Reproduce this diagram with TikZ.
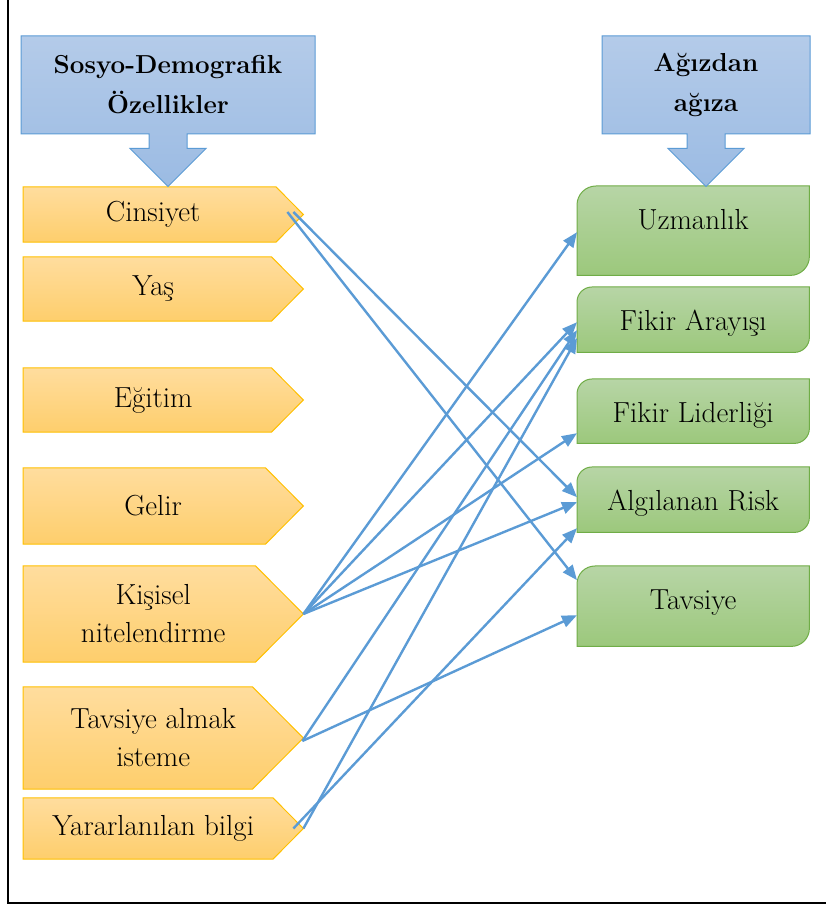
\documentclass[tikz,border=0pt]{standalone}
\usepackage{xcolor}
\usepackage{tikz}
\usetikzlibrary{arrows.meta,shapes.arrows,backgrounds}

\definecolor{sariust}{RGB}{255,221,158}
\definecolor{sarialt}{RGB}{254,206,108}
\definecolor{saricizgi}{RGB}{255,192,0}
\definecolor{yesilust}{RGB}{183,213,166}
\definecolor{yesilalt}{RGB}{156,200,124}
\definecolor{yesilcizgi}{RGB}{112,173,71}
\definecolor{maviust}{RGB}{180,203,233}
\definecolor{mavialt}{RGB}{155,187,227}
\definecolor{mavicizgi}{RGB}{91,155,213}

\begin{document}
\begin{tikzpicture}[x=1pt, y=1pt, ->, >={Triangle[length=15pt,width=12pt]},
  every node/.style={font=\fontsize{29}{38}\selectfont},
  baslik/.style={shape=arrow box, draw=mavicizgi, line width=1pt, top color=maviust, bottom color=mavialt,
    minimum height=98pt, align=center, font=\fontsize{26}{40}\selectfont\bfseries,
    arrow box shaft width=38pt, arrow box head extend=19pt, arrow box arrows={south:52pt from border}},
  kaynak/.style={anchor=west, minimum width=260pt, inner sep=0pt, align=center},
  hedef/.style={anchor=north west, minimum width=232pt, inner sep=0pt, text height=43pt},
  sekil/.style={-, line width=1pt},
  ok/.style={every edge/.style={draw=mavicizgi, line width=2.4pt, -{Triangle[length=15pt,width=12pt]}}}]
\useasboundingbox (0,0) rectangle (826,906);
\draw[-, line width=2pt] (8,906) -- (8,3) -- (826,3);

% basliklar
\node[baslik, minimum width=294pt] (sosyo) at (168,821) {Sosyo-Demografik\\Özellikler};
\node[baslik, minimum width=208pt] (agiz) at (706,821) {Ağızdan\\ağıza};

% sol sutun
\node[kaynak, minimum height=55pt] (cin) at (23,691.5) {Cinsiyet};
\node[kaynak, minimum height=64pt] (yas) at (23,617) {Yaş};
\node[kaynak, minimum height=64pt] (egt) at (23,506) {Eğitim};
\node[kaynak, minimum height=76pt] (gel) at (23,400) {Gelir};
\node[kaynak, minimum height=96pt] (kis) at (23,292) {Kişisel\\nitelendirme};
\node[kaynak, minimum height=102pt] (ist) at (23,168) {Tavsiye almak\\isteme};
\node[kaynak, minimum height=61pt] (yar) at (23,77.5) {Yararlanılan bilgi};

% sag sutun
\node[hedef, text depth=46pt] (uzm) at (577,720) {Uzmanlık};
\node[hedef, text depth=22pt] (ara) at (577,619) {Fikir Arayışı};
\node[hedef, text depth=21pt] (lid) at (577,527) {Fikir Liderliği};
\node[hedef, text depth=22pt] (risk) at (577,439) {Algılanan Risk};
\node[hedef, text depth=37pt] (tav) at (577,340) {Tavsiye};

\begin{scope}[on background layer]
\foreach \n/\r in {cin/27.5, yas/32, egt/32, gel/38, kis/48, ist/51, yar/30.5}
  \draw[sekil, draw=saricizgi, top color=sariust, bottom color=sarialt]
    (\n.north west) -- ([xshift={(20-\r)*1pt}]\n.north east) -- ([xshift=20pt]\n.east)
    -- ([xshift={(20-\r)*1pt}]\n.south east) -- (\n.south west) -- cycle;
\foreach \n/\r in {uzm/19, ara/15, lid/15, risk/15, tav/18}
  \draw[sekil, draw=yesilcizgi, top color=yesilust, bottom color=yesilalt]
    (\n.south west) -- ([yshift=-\r pt]\n.north west) arc[start angle=180, end angle=90, radius=\r pt]
    -- (\n.north east) -- ([yshift=\r pt]\n.south east) arc[start angle=0, end angle=-90, radius=\r pt]
    -- cycle;
\end{scope}

\path[ok]
([xshift=10pt, yshift=2.5pt]cin.east) edge ([yshift=2.5pt]risk.west)
([xshift=4pt, yshift=2.5pt]cin.east) edge ([yshift=26pt]tav.west)

([xshift=20pt]kis.east) edge ([yshift=-1.5pt]uzm.west)
([xshift=20pt]kis.east) edge ([yshift=-2.5pt]ara.west)
([xshift=20pt]kis.east) edge ([yshift=-22pt]lid.west)
([xshift=20pt]kis.east) edge ([yshift=-2.5pt]risk.west)

([xshift=19pt, yshift=-3pt]ist.east) edge ([yshift=-10.5pt]ara.west)
([xshift=19pt, yshift=-3pt]ist.east) edge ([yshift=-9pt]tav.west)

([xshift=20pt]yar.east) edge ([yshift=-18.5pt]ara.west)
([xshift=10pt]yar.east) edge ([yshift=-28.5pt]risk.west);
\end{tikzpicture}
\end{document}
